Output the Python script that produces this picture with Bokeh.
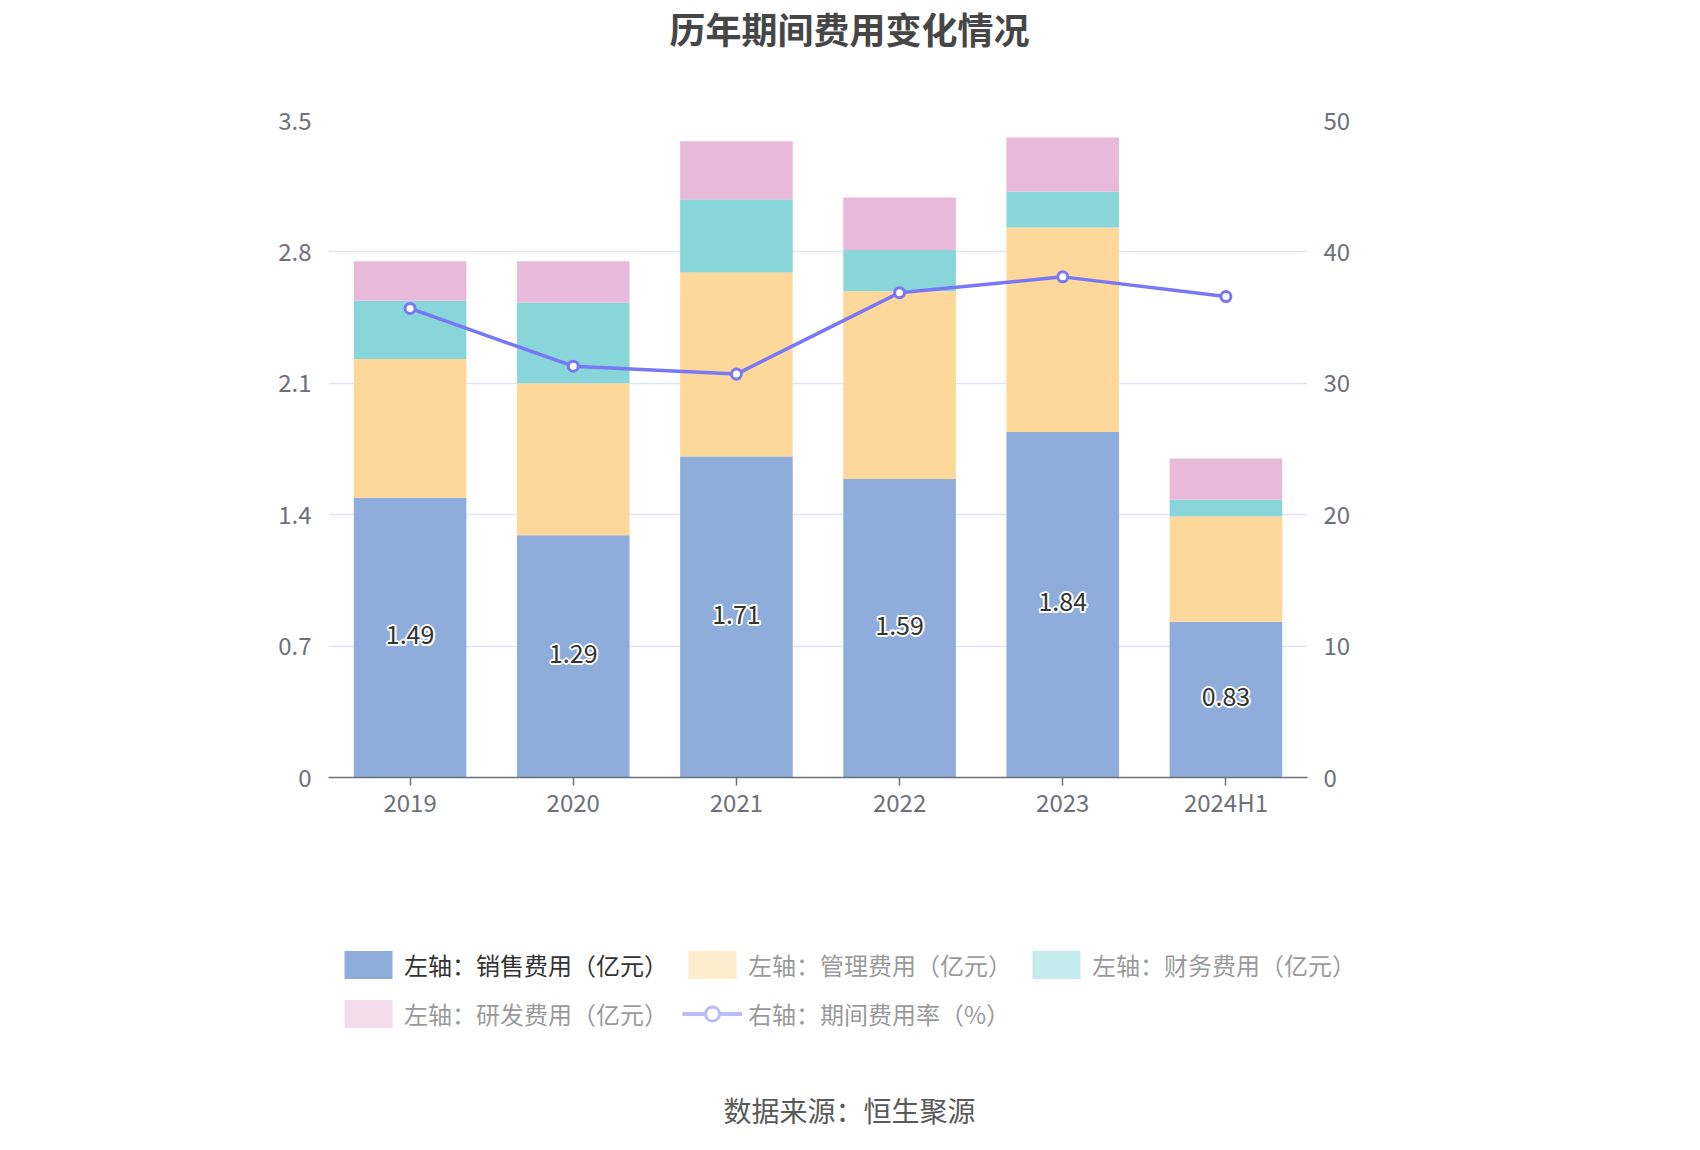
from bokeh.plotting import figure
from bokeh.layouts import column
from bokeh.models import (ColumnDataSource, FactorRange, Range1d, LinearAxis, FixedTicker,
                          Legend, LegendItem, Label, NumeralTickFormatter)
from bokeh.core.properties import value
from bokeh.embed import file_html
from bokeh.resources import INLINE

categories = ["2019", "2020", "2021", "2022", "2023", "2024H1"]
sales = [1.49, 1.29, 1.71, 1.59, 1.84, 0.83]
admin = [0.74, 0.81, 0.98, 1.00, 1.09, 0.56]
finance = [0.31, 0.43, 0.39, 0.22, 0.19, 0.09]
rnd = [0.21, 0.22, 0.31, 0.28, 0.29, 0.22]
rate = [35.7, 31.3, 30.7, 36.9, 38.1, 36.6]
left_ticks = [0, 0.7, 1.4, 2.1, 2.8, 3.5]
right_ticks = [0, 10, 20, 30, 40, 50]
series_names = ["左轴：销售费用（亿元）", "左轴：管理费用（亿元）", "左轴：财务费用（亿元）",
                "左轴：研发费用（亿元）", "右轴：期间费用率（%）"]
title_text = "历年期间费用变化情况"
source_text = "数据来源：恒生聚源"

FONT = "Noto Sans CJK SC"
colors = ["#8eaddb", "#fed89b", "#88d6da", "#e8b9d8"]
line_color = "#7878f4"
axis_text = "#6e7079"
W = 1684
H_HEAD, H_MAIN, H_FOOT = 60, 770, 304


def blank(h):
    f = figure(width=W, height=h, x_range=Range1d(0, W), y_range=Range1d(0, h),
               x_axis_type=None, y_axis_type=None, output_backend="svg", toolbar_location=None,
               min_border=0, outline_line_color=None, frame_align=False)
    f.grid.visible = False
    return f


# ---------- header (title) ----------
head = blank(H_HEAD)
head.add_layout(Label(x=849, y=H_HEAD - 1, text=title_text, text_align="center",
                      text_baseline="top", text_font=FONT, text_font_size="36px",
                      text_font_style="bold", text_color="#464646"))

# ---------- main chart ----------
p = figure(x_range=FactorRange(*categories), y_range=Range1d(0, 3.5),
           width=W, height=H_MAIN, output_backend="svg", toolbar_location=None,
           min_border_left=328, min_border_right=377, min_border_top=60, min_border_bottom=53,
           outline_line_color=None, background_fill_color="white", frame_align=False)
p.extra_y_ranges = {"rate": Range1d(0, 50)}

src = ColumnDataSource(dict(cat=categories, sales=sales, admin=admin, finance=finance, rnd=rnd,
                            rate=rate,
                            mid=[v / 2 for v in sales],
                            lbl=["%.2f" % v for v in sales]))

bars = p.vbar_stack(["sales", "admin", "finance", "rnd"], x="cat", width=0.69, color=colors,
                    line_color=None, source=src)

offs = [(-2, 0), (2, 0), (0, -2), (0, 2), (-1.4, -1.4), (1.4, 1.4), (-1.4, 1.4), (1.4, -1.4)]
for dx, dy in offs:
    p.text(x="cat", y="mid", text="lbl", source=src, text_align="center", text_baseline="middle",
           text_font=value(FONT), text_font_size="25px", text_color="white",
           x_offset=dx, y_offset=dy - 3)
p.text(x="cat", y="mid", text="lbl", source=src, text_align="center", text_baseline="middle",
       text_font=value(FONT), text_font_size="25px", text_color="#333333", y_offset=-3)

p.line(x="cat", y="rate", source=src, y_range_name="rate", line_color=line_color, line_width=3.5)
p.scatter(x="cat", y="rate", source=src, y_range_name="rate", size=10, fill_color="white",
          line_color=line_color, line_width=3)

p.xgrid.visible = False
p.ygrid.ticker = FixedTicker(ticks=left_ticks)
p.ygrid.grid_line_color = "#e0e6f1"
p.ygrid.grid_line_width = 1.5

yl = p.yaxis[0]
yl.ticker = FixedTicker(ticks=left_ticks)
yl.formatter = NumeralTickFormatter(format="0.[0]")
yl.axis_line_color = None
yl.major_tick_line_color = None
yl.minor_tick_line_color = None
yl.major_tick_out = 0
yl.major_tick_in = 0
yl.major_label_standoff = 17
yl.major_label_text_font = FONT
yl.major_label_text_font_size = "24px"
yl.major_label_text_color = axis_text

yr = LinearAxis(y_range_name="rate", ticker=FixedTicker(ticks=right_ticks))
yr.axis_line_color = None
yr.major_tick_line_color = None
yr.minor_tick_line_color = None
yr.major_tick_out = 0
yr.major_tick_in = 0
yr.major_label_standoff = 16
yr.major_label_text_font = FONT
yr.major_label_text_font_size = "24px"
yr.major_label_text_color = axis_text
p.add_layout(yr, "right")

xa = p.xaxis[0]
xa.axis_line_color = axis_text
xa.axis_line_width = 1.5
xa.major_tick_line_color = axis_text
xa.major_tick_line_width = 1.5
xa.major_tick_out = 8
xa.major_tick_in = 0
xa.minor_tick_line_color = None
xa.major_label_standoff = -2
xa.major_label_text_font = FONT
xa.major_label_text_font_size = "24px"
xa.major_label_text_color = axis_text

# ---------- legend + source ----------
foot = blank(H_FOOT)
off = dict(x=[-100], top=[1])
r1 = foot.vbar(width=1, fill_color=colors[0], line_color=None, **off)
r2 = foot.vbar(width=1, fill_color=colors[1], line_color=None, visible=False, **off)
r3 = foot.vbar(width=1, fill_color=colors[2], line_color=None, visible=False, **off)
r4 = foot.vbar(width=1, fill_color=colors[3], line_color=None, visible=False, **off)
rl = foot.line(x=[-200, -100], y=[1, 1], line_color=line_color, line_width=4, visible=False)
rs = foot.scatter(x=[-100], y=[1], size=14, fill_color="white", line_color=line_color,
                  line_width=3, visible=False)

items = [LegendItem(label=series_names[0], renderers=[r1]),
         LegendItem(label=series_names[1], renderers=[r2]),
         LegendItem(label=series_names[2], renderers=[r3]),
         LegendItem(label=series_names[3], renderers=[r4]),
         LegendItem(label=series_names[4], renderers=[rl, rs])]
legend = Legend(items=items, location=(338, 103.5), orientation="horizontal", ncols=3,
                click_policy="hide", inactive_fill_color="white", inactive_fill_alpha=0.5,
                glyph_width=60, glyph_height=35, label_standoff=6, spacing=14,
                label_width=264, label_height=28, padding=0, margin=0, border_line_color=None,
                background_fill_alpha=0,
                label_text_font=FONT, label_text_font_size="24px", label_text_color="#333333")
foot.add_layout(legend, "center")

foot.add_layout(Label(x=849, y=24.5, text=source_text, text_align="center",
                      text_baseline="middle", text_font=FONT, text_font_size="28px",
                      text_color="#595959"))

layout = column(head, p, foot, spacing=0)
open("out.html", "w").write(file_html(layout, INLINE))
